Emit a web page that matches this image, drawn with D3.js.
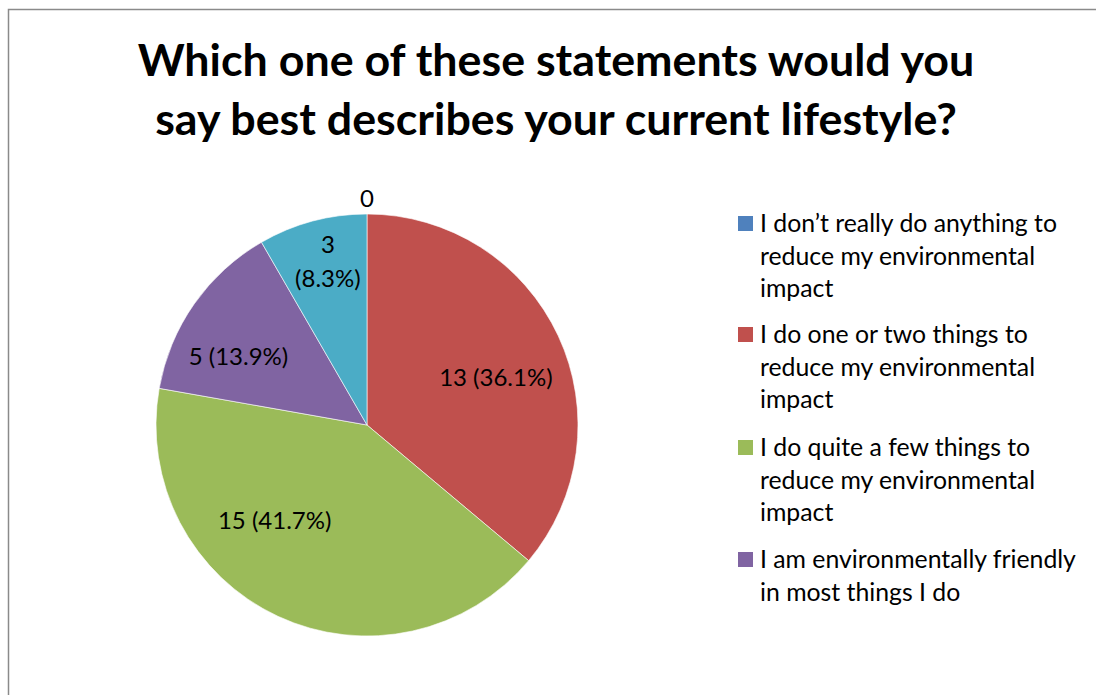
<!DOCTYPE html>
<html>
<head>
<meta charset="utf-8">
<script src="https://cdn.jsdelivr.net/npm/d3@7/dist/d3.min.js"></script>
<style>
  html, body { margin: 0; padding: 0; background: #fff; }
  svg { display: block; }
  text { font-family: Lato, "Open Sans", sans-serif; fill: #000; }
</style>
</head>
<body>
<svg id="chart" width="1096" height="695"></svg>
<script>
// Survey responses: "Which one of these statements would you say best describes your current lifestyle?"
const categories = [
  "I don\u2019t really do anything to reduce my environmental impact",
  "I do one or two things to reduce my environmental impact",
  "I do quite a few things to reduce my environmental impact",
  "I am environmentally friendly in most things I do",
  "Other"
];
const counts = [0, 13, 15, 5, 3];
const colors = ["#4F81BD", "#C0504D", "#9BBB59", "#8064A2", "#4BACC6"];
const titleLines = ["Which one of these statements would you", "say best describes your current lifestyle?"];
// Legend rows as wrapped (only the first four entries fit in the frame)
const legendLines = [
  ["I don\u2019t really do anything to", "reduce my environmental", "impact"],
  ["I do one or two things to", "reduce my environmental", "impact"],
  ["I do quite a few things to", "reduce my environmental", "impact"],
  ["I am environmentally friendly", "in most things I do"]
];

const svg = d3.select("#chart");
const W = 1096, H = 695;

// chart frame (extends past the right and bottom edges)
svg.append("rect")
  .attr("x", 8.5).attr("y", 9.5)
  .attr("width", W + 20).attr("height", H + 20)
  .attr("fill", "#fff").attr("stroke", "#8a8a8a").attr("stroke-width", 1.5);

// title
const title = svg.append("g");
titleLines.forEach((t, i) => {
  title.append("text")
    .attr("x", 556).attr("y", 76 + i * 59)
    .attr("text-anchor", "middle")
    .attr("font-weight", "bold")
    .attr("font-size", 46)
    .text(t);
});
// fit title width to the layout
const t0 = title.select("text").node();
const fs = 46 * 837 / t0.getComputedTextLength();
title.selectAll("text").attr("font-size", fs);

// pie
const cx = 367, cy = 425, R = 211;
const total = d3.sum(counts);
const pie = d3.pie().sort(null).value(d => d)(counts);
const arc = d3.arc().innerRadius(0).outerRadius(R);
const color = d3.scaleOrdinal().domain(d3.range(counts.length)).range(colors);

const g = svg.append("g").attr("transform", `translate(${cx},${cy})`);
g.selectAll("path.slice")
  .data(pie)
  .join("path")
  .attr("class", "slice")
  .attr("d", arc)
  .attr("fill", (d, i) => color(i))
  .attr("stroke", "#fff").attr("stroke-width", 0.6);

// data label placement: angle offset (deg) from slice middle and radius factor
const labelPlace = [
  { da: 0, rf: 1.07, split: false },
  { da: 5, rf: 0.65, split: false },
  { da: 19, rf: 0.63, split: false },
  { da: -7, rf: 0.69, split: false },
  { da: 1.5, rf: 0.795, split: true }
];
const labelSize = 24;
const fmtPct = v => (v / total * 100).toFixed(1) + "%";
pie.forEach((d, i) => {
  const p = labelPlace[i];
  const a = (d.startAngle + d.endAngle) / 2 + p.da * Math.PI / 180;
  const r = R * p.rf;
  const x = Math.sin(a) * r, y = -Math.cos(a) * r;
  const lab = g.append("text")
    .attr("text-anchor", "middle")
    .attr("font-size", labelSize);
  if (d.value === 0) {
    lab.attr("x", x).attr("y", y + 8).text(String(d.value));
  } else if (p.split) {
    lab.append("tspan").attr("x", x).attr("y", y - 9).text(String(d.value));
    lab.append("tspan").attr("x", x).attr("y", y + 25).text("(" + fmtPct(d.value) + ")");
  } else {
    lab.attr("x", x).attr("y", y + 8).text(`${d.value} (${fmtPct(d.value)})`);
  }
});

// legend
const legend = svg.append("g");
const starts = [232, 343, 456, 568];
const legendTexts = [];
legendLines.forEach((lines, i) => {
  legend.append("rect")
    .attr("x", 738).attr("y", starts[i] - 16)
    .attr("width", 15).attr("height", 15)
    .attr("fill", color(i));
  const tx = legend.append("text").attr("font-size", 23);
  lines.forEach((ln, j) => {
    tx.append("tspan").attr("x", 760).attr("y", starts[i] + j * 32.5).text(ln);
  });
  legendTexts.push(tx);
});
// size legend type so the first row spans its column
const firstRow = legendTexts[0].select("tspan").node();
const lfs = 23 * 297 / firstRow.getComputedTextLength();
legendTexts.forEach(t => t.attr("font-size", lfs));
</script>
</body>
</html>
